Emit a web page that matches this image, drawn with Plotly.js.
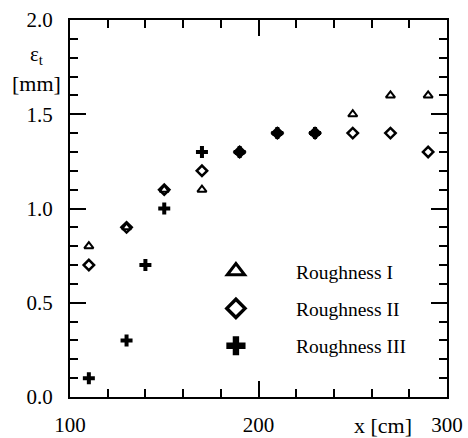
<!DOCTYPE html>
<html><head><meta charset="utf-8">
<script src="https://cdn.plot.ly/plotly-3.0.1.min.js"></script>
<style>html,body{margin:0;padding:0;background:#fff}#plot{width:468px;height:438px}</style>
</head><body><div id="plot"></div>
<script>
const xI = [110,130,150,170,190,210,230,250,270,290];
const yI = [0.8,0.9,1.1,1.1,1.3,1.4,1.4,1.5,1.6,1.6];
const xII = [110,130,150,170,190,210,230,250,270,290];
const yII = [0.7,0.9,1.1,1.2,1.3,1.4,1.4,1.4,1.4,1.3];
const xIII = [110,130,140,150,170,190,210,230];
const yIII = [0.1,0.3,0.7,1.0,1.3,1.3,1.4,1.4];
const names = ['Roughness I','Roughness II','Roughness III'];
const xTicks = [100,200,300];
const yTicks = [0,0.5,1,1.5,2];
const yTickText = ['0.0','0.5','1.0','1.5','2.0'];

const font = '"Liberation Serif"';
const symI = {symbol:'triangle-up-open', color:'#000', line:{color:'#000', width:2}};
const symII = {symbol:'diamond-open', color:'#000', line:{color:'#000', width:2.5}};
const symIII = {symbol:'cross', color:'#000', line:{width:0}};

const traces = [
  {x:xI, y:yI, mode:'markers', type:'scatter', showlegend:false, marker:Object.assign({size:8}, symI)},
  {x:xII, y:yII, mode:'markers', type:'scatter', showlegend:false, marker:Object.assign({size:8}, symII)},
  {x:xIII, y:yIII, mode:'markers', type:'scatter', showlegend:false, marker:Object.assign({size:10}, symIII)},
  {x:[null], y:[null], name:names[0], legendgroup:'a', mode:'markers', type:'scatter', marker:Object.assign({}, symI, {size:15, line:{color:'#000', width:3}})},
  {x:[null], y:[null], name:names[1], legendgroup:'b', mode:'markers', type:'scatter', marker:Object.assign({}, symII, {size:14, line:{color:'#000', width:3.5}})},
  {x:[null], y:[null], name:names[2], legendgroup:'c', mode:'markers', type:'scatter', marker:Object.assign({}, symIII, {size:16})}
];

const axisCommon = {
  showgrid:false, zeroline:false, showline:true, linecolor:'#000', linewidth:2,
  mirror:'ticks', ticks:'inside', tickcolor:'#000', tickwidth:2, ticklen:16,
  tickfont:{family:font, size:21, color:'#000'}
};

const layout = {
  width:468, height:438,
  margin:{l:70, r:21, t:20, b:41},
  paper_bgcolor:'#fff', plot_bgcolor:'#fff',
  font:{family:font, color:'#000'},
  xaxis:Object.assign({}, axisCommon, {range:[100,300], tickvals:xTicks, ticktext:xTicks.map(String),
    minor:{ticks:'inside', dtick:20, tick0:100, ticklen:8, tickwidth:2, tickcolor:'#000'}, ticklabelstandoff:8}),
  yaxis:Object.assign({}, axisCommon, {range:[0,2], tickvals:yTicks, ticktext:yTickText,
    minor:{ticks:'inside', dtick:0.1, tick0:0, ticklen:8, tickwidth:2, tickcolor:'#000'}, ticklabelstandoff:11}),
  showlegend:true,
  legend:{x:0.281, y:0.385, xanchor:'left', yanchor:'top', bgcolor:'rgba(0,0,0,0)', borderwidth:0,
    font:{family:font, size:19.5, color:'#000'}, itemwidth:110, tracegroupgap:9, itemsizing:'trace'},
  annotations:[
    {text:'ε<sub>t</sub>', xref:'paper', yref:'paper', x:-0.088, y:0.907, xanchor:'center', yanchor:'middle', showarrow:false, font:{family:font, size:21, color:'#000'}},
    {text:'[mm]', xref:'paper', yref:'paper', x:-0.088, y:0.832, xanchor:'center', yanchor:'middle', showarrow:false, font:{family:font, size:22, color:'#000'}},
    {text:'x [cm]', xref:'paper', yref:'paper', x:0.83, y:-0.075, xanchor:'center', yanchor:'middle', showarrow:false, font:{family:font, size:22, color:'#000'}}
  ]
};
Plotly.newPlot('plot', traces, layout, {displayModeBar:false, staticPlot:true});
</script></body></html>
